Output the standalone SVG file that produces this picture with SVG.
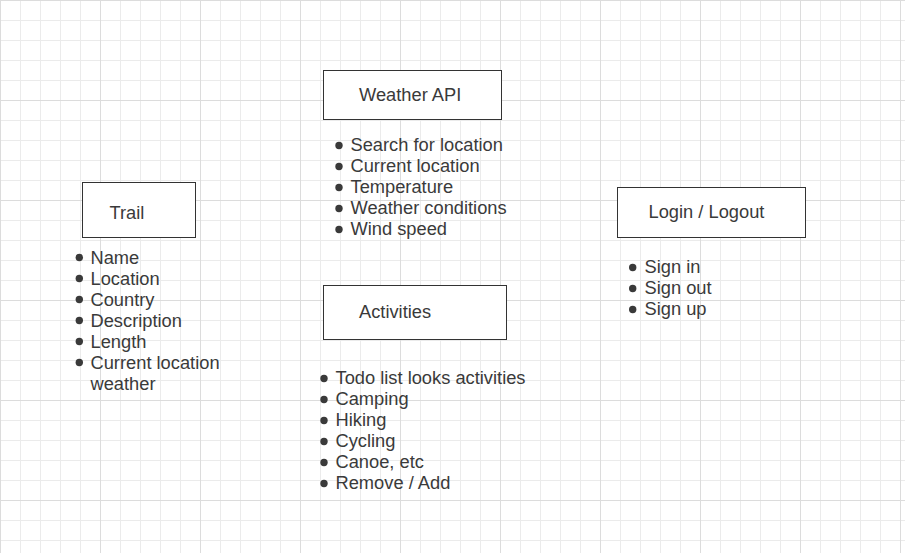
<svg xmlns="http://www.w3.org/2000/svg" width="905" height="553" viewBox="0 0 905 553">
<defs>
<pattern id="grid" patternUnits="userSpaceOnUse" x="0" y="0" width="100" height="100">
<path d="M20.5 0V100M40.5 0V100M60.5 0V100M80.5 0V100M0 20.5H100M0 40.5H100M0 60.5H100M0 80.5H100" stroke="#ebebeb" stroke-width="1" fill="none"/>
<path d="M0.5 0V100M0 0.5H100" stroke="#dcdcdc" stroke-width="1" fill="none"/>
</pattern>
</defs>
<style>
.box{fill:#ffffff;stroke:#333333;stroke-width:1}
.t{font-family:"Liberation Sans",Arial,sans-serif;font-size:18.3px;fill:#3a3a3a}
.dot{fill:#3a3a3a}
</style>
<rect x="0" y="0" width="905" height="553" fill="#ffffff"/>
<rect x="0" y="0" width="905" height="553" fill="url(#grid)"/>
<g id="connectors"></g>
<g id="weather-api">
<rect class="box" x="323.5" y="70.5" width="178" height="49"/>
<text class="t" x="359" y="101">Weather API</text>
<circle class="dot" cx="339" cy="145.5" r="3.7"/><text class="t" x="350.5" y="151">Search for location</text>
<circle class="dot" cx="339" cy="166.5" r="3.7"/><text class="t" x="350.5" y="172">Current location</text>
<circle class="dot" cx="339" cy="187.5" r="3.7"/><text class="t" x="350.5" y="193">Temperature</text>
<circle class="dot" cx="339" cy="208.5" r="3.7"/><text class="t" x="350.5" y="214">Weather conditions</text>
<circle class="dot" cx="339" cy="229.5" r="3.7"/><text class="t" x="350.5" y="235">Wind speed</text>
</g>
<g id="trail">
<rect class="box" x="82.5" y="182.5" width="113" height="55"/>
<text class="t" x="109.5" y="219">Trail</text>
<circle class="dot" cx="79.3" cy="257.5" r="3.7"/><text class="t" x="90.5" y="263.5">Name</text>
<circle class="dot" cx="79.3" cy="278.5" r="3.7"/><text class="t" x="90.5" y="284.5">Location</text>
<circle class="dot" cx="79.3" cy="299.5" r="3.7"/><text class="t" x="90.5" y="305.5">Country</text>
<circle class="dot" cx="79.3" cy="320.5" r="3.7"/><text class="t" x="90.5" y="326.5">Description</text>
<circle class="dot" cx="79.3" cy="341.5" r="3.7"/><text class="t" x="90.5" y="347.5">Length</text>
<circle class="dot" cx="79.3" cy="362.5" r="3.7"/><text class="t" x="90.5" y="368.5">Current location</text>
<text class="t" x="90.5" y="389.5">weather</text>
</g>
<g id="login-logout">
<rect class="box" x="617.5" y="187.5" width="188" height="50"/>
<text class="t" x="648.5" y="218">Login / Logout</text>
<circle class="dot" cx="632.7" cy="267.5" r="3.7"/><text class="t" x="644.5" y="273">Sign in</text>
<circle class="dot" cx="632.7" cy="288.5" r="3.7"/><text class="t" x="644.5" y="294">Sign out</text>
<circle class="dot" cx="632.7" cy="309.5" r="3.7"/><text class="t" x="644.5" y="315">Sign up</text>
</g>
<g id="activities">
<rect class="box" x="323.5" y="285.5" width="183" height="54"/>
<text class="t" x="359" y="318">Activities</text>
<circle class="dot" cx="324" cy="378.5" r="3.7"/><text class="t" x="335.5" y="384">Todo list looks activities</text>
<circle class="dot" cx="324" cy="399.5" r="3.7"/><text class="t" x="335.5" y="405">Camping</text>
<circle class="dot" cx="324" cy="420.5" r="3.7"/><text class="t" x="335.5" y="426">Hiking</text>
<circle class="dot" cx="324" cy="441.5" r="3.7"/><text class="t" x="335.5" y="447">Cycling</text>
<circle class="dot" cx="324" cy="462.5" r="3.7"/><text class="t" x="335.5" y="468">Canoe, etc</text>
<circle class="dot" cx="324" cy="483.5" r="3.7"/><text class="t" x="335.5" y="489">Remove / Add</text>
</g>
</svg>
